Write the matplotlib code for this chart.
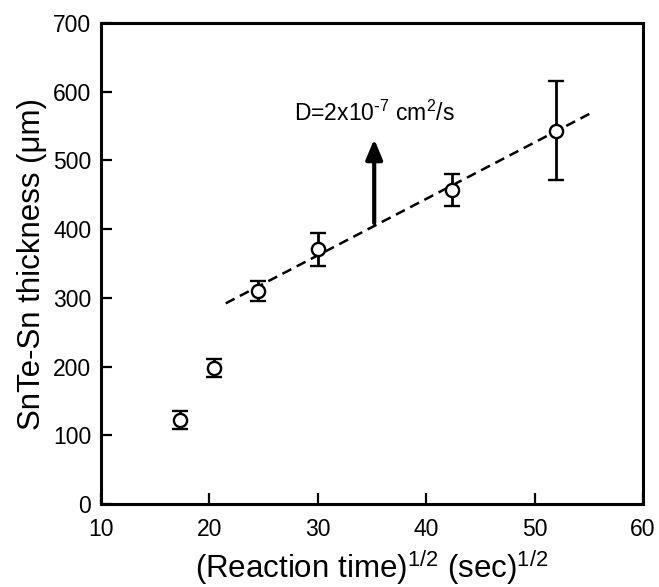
import matplotlib
matplotlib.use("Agg")
import matplotlib.pyplot as plt

plt.rcParams['font.family'] = ['Liberation Sans', 'DejaVu Sans']

# sqrt of reaction time (sec^1/2) vs layer thickness (um)
sqrt_time = [17.3, 20.4, 24.5, 30.0, 42.4, 51.95]
thickness = [122, 198, 310, 371, 457, 543]
thick_err = [13, 13, 15, 24, 23, 72]

# fitted line end points
fit_x = [21.5, 55.2]
fit_y = [292, 569]

# arrow marking the diffusion coefficient label
arrow_x = 35.2
arrow_y = [409, 531]
label_y = 569

fig = plt.figure(figsize=(6.59, 5.87), dpi=100)
ax = fig.add_axes([0.1533, 0.1414, 0.8225, 0.8194])

ax.plot(fit_x, fit_y, color='black', linestyle=(0, (4, 2.4)), linewidth=1.8, zorder=1)
ax.errorbar(sqrt_time, thickness, yerr=thick_err, fmt='o', color='black',
            markerfacecolor='white', markeredgecolor='black', markersize=9.5,
            markeredgewidth=1.7, elinewidth=2, capsize=5.5, capthick=2, zorder=3)

ax.annotate('', xy=(arrow_x, arrow_y[1]), xytext=(arrow_x, arrow_y[0]),
            arrowprops=dict(arrowstyle='-|>,head_length=0.6,head_width=0.25',
                            color='black', lw=3, mutation_scale=20,
                            shrinkA=0, shrinkB=0))
# hyphen kept as plain text-style by using a tiny superscript via mathregular
ax.text(arrow_x, label_y, r'D=2x10$^{\mathregular{\text{-}7}}$ cm$^{\mathregular{2}}$/s',
        ha='center', va='center', fontsize=16.5)

ax.set_xlim(10, 60)
ax.set_ylim(0, 700)
ax.set_xticks(range(10, 61, 10))
ax.set_yticks(range(0, 701, 100))
ax.tick_params(direction='in', length=8, width=1.6, labelsize=16.5)
ax.tick_params(axis='x', pad=10)
ax.tick_params(axis='y', pad=7)
for s in ax.spines.values():
    s.set_linewidth(2.2)

ax.set_xlabel(r'(Reaction time)$^{\mathregular{1/2}}$ (sec)$^{\mathregular{1/2}}$', fontsize=22.5, labelpad=5)
ax.set_ylabel('SnTe-Sn thickness (μm)', fontsize=22.5, labelpad=4)

fig.savefig('out.png', dpi=100)
